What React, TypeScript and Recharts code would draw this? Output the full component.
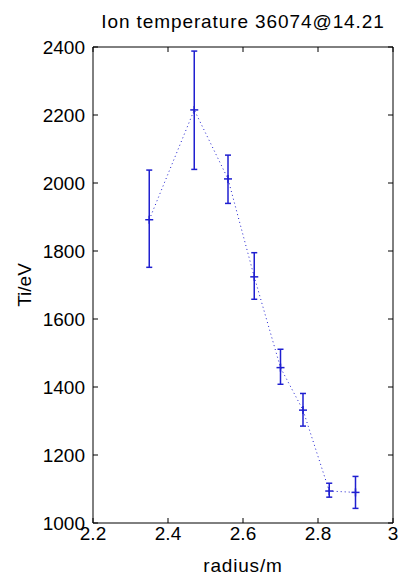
import {
  ComposedChart,
  ErrorBar,
  Label,
  Line,
  XAxis,
  YAxis,
} from "recharts";

// radius (m) and ion temperature (eV), with error bar limits
const radius = [2.35, 2.47, 2.56, 2.63, 2.7, 2.76, 2.83, 2.9];
const ti = [1892, 2215, 2012, 1724, 1457, 1332, 1094, 1090];
const tiLow = [1752, 2040, 1940, 1658, 1408, 1285, 1076, 1043];
const tiHigh = [2038, 2388, 2082, 1795, 1511, 1381, 1117, 1137];

const xTicks = [2.2, 2.4, 2.6, 2.8, 3];
const yTicks = [1000, 1200, 1400, 1600, 1800, 2000, 2200, 2400];

const data = radius.map((r, i) => ({
  r,
  ti: ti[i],
  err: [ti[i] - tiLow[i], tiHigh[i] - ti[i]],
}));

const BLUE = "#1f1fd0";
const FONT = "'Liberation Sans', Arial, sans-serif";
const FS = 19;
const TICK = 5;

const PlusDot = (props: any) => {
  const { cx, cy } = props;
  if (cx == null || cy == null) return null;
  return (
    <g>
      <line x1={cx - 4} y1={cy} x2={cx + 4} y2={cy} stroke={BLUE} strokeWidth={1.5} />
      <line x1={cx} y1={cy - 4} x2={cx} y2={cy + 4} stroke={BLUE} strokeWidth={1.5} />
    </g>
  );
};

// ticks point inward, labels sit outside (matlab style)
const BottomTick = ({ x, y, payload }: any) => (
  <g>
    <line x1={x} y1={y - 4} x2={x} y2={y - 4 - TICK} stroke="#000" />
    <text x={x} y={y} dy="0.71em" textAnchor="middle" fill="#000" fontSize={FS} fontFamily={FONT}>
      {`${payload.value}`}
    </text>
  </g>
);

const TopTick = ({ x, y }: any) => (
  <line x1={x} y1={y} x2={x} y2={y + TICK} stroke="#000" />
);

const LeftTick = ({ x, y, payload }: any) => (
  <g>
    <line x1={x + 8} y1={y} x2={x + 8 + TICK} y2={y} stroke="#000" />
    <text x={x} y={y} dy="0.355em" textAnchor="end" fill="#000" fontSize={FS} fontFamily={FONT}>
      {payload.value}
    </text>
  </g>
);

const RightTick = ({ x, y }: any) => (
  <line x1={x} y1={y} x2={x - TICK} y2={y} stroke="#000" />
);

export default function App() {
  return (
    <div style={{ position: "absolute", left: 0, top: 0, background: "#fff" }}>
      <ComposedChart
        width={403}
        height={580}
        data={data}
        margin={{ top: 46, right: 9, bottom: 0, left: 0 }}
      >
        <XAxis
          xAxisId="bottom"
          dataKey="r"
          type="number"
          domain={[2.2, 3]}
          ticks={xTicks}
          allowDataOverflow
          height={57}
          stroke="#000"
          tick={<BottomTick />}
          tickLine={false}
          tickSize={0}
          tickMargin={4}
        >
          <Label
            value="radius/m"
            position="insideBottom"
            offset={8}
            style={{ fill: "#000", fontSize: FS, fontFamily: FONT, letterSpacing: 0.8 }}
          />
        </XAxis>
        <XAxis
          xAxisId="top"
          orientation="top"
          dataKey="r"
          type="number"
          domain={[2.2, 3]}
          ticks={xTicks}
          allowDataOverflow
          height={1}
          stroke="#000"
          tick={<TopTick />}
          tickLine={false}
          tickSize={0}
          tickMargin={0}
        >
          <Label
            value="Ion temperature 36074@14.21"
            position="top"
            offset={18}
            style={{ fill: "#000", fontSize: FS, fontFamily: FONT, letterSpacing: 0.9 }}
          />
        </XAxis>
        <YAxis
          yAxisId="left"
          type="number"
          domain={[1000, 2400]}
          ticks={yTicks}
          allowDataOverflow
          width={93}
          stroke="#000"
          tick={<LeftTick />}
          tickLine={false}
          tickSize={0}
          tickMargin={8}
        >
          <Label
            value="Ti/eV"
            position="insideLeft"
            angle={-90}
            offset={24}
            style={{ fill: "#000", fontSize: FS, fontFamily: FONT, textAnchor: "middle" }}
          />
        </YAxis>
        <YAxis
          yAxisId="right"
          orientation="right"
          type="number"
          domain={[1000, 2400]}
          ticks={yTicks}
          allowDataOverflow
          width={1}
          stroke="#000"
          tick={<RightTick />}
          tickLine={false}
          tickSize={0}
          tickMargin={0}
        />
        <Line
          xAxisId="bottom"
          yAxisId="left"
          dataKey="ti"
          stroke={BLUE}
          strokeWidth={1}
          strokeDasharray="1 3"
          type="linear"
          dot={<PlusDot />}
          activeDot={false}
          isAnimationActive={false}
        >
          <ErrorBar
            dataKey="err"
            direction="y"
            width={3}
            stroke={BLUE}
            strokeWidth={1.5}
            isAnimationActive={false}
          />
        </Line>
      </ComposedChart>
    </div>
  );
}
